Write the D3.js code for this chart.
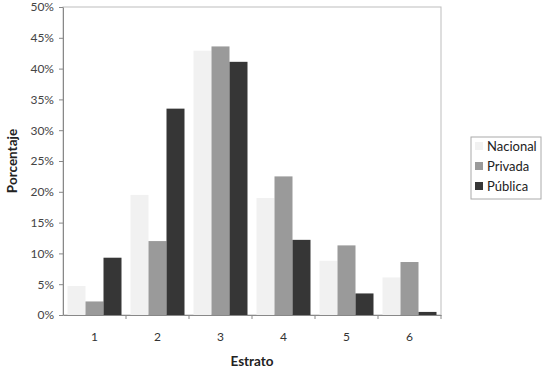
<!DOCTYPE html>
<html><head><meta charset="utf-8">
<script src="https://cdn.jsdelivr.net/npm/d3@7"></script>
<style>body{margin:0;background:#fff}svg{display:block;font-family:Lato,"Open Sans",sans-serif}</style>
</head><body><svg id="c" width="545" height="371"></svg>
<script>
const categories = ["1","2","3","4","5","6"];
const seriesNames = ["Nacional","Privada","Pública"];
const nacional = [4.7,19.5,42.9,19.0,8.8,6.1];
const privada = [2.2,12.0,43.6,22.5,11.3,8.6];
const publica = [9.3,33.5,41.1,12.2,3.5,0.5];
const yTicks = [0,5,10,15,20,25,30,35,40,45,50];
const colors = ["#f1f1f1","#9a9a9a","#363636"];
const seriesVals = [nacional, privada, publica];

const svg = d3.select("#c");
const L=63, R=441, T=7, B=315;
const x = d3.scaleBand().domain(categories).range([L,R]).paddingInner(0).paddingOuter(0);
const inner = d3.scaleBand().domain(seriesNames).range([0,x.bandwidth()]).paddingInner(0).paddingOuter(0.25);
const y = d3.scaleLinear().domain([0,50]).range([B,T]);

// plot border
svg.append("rect").attr("x",L).attr("y",T).attr("width",R-L).attr("height",B-T)
  .attr("fill","none").attr("stroke","#bdbdbd").attr("stroke-width",1);

// bars
seriesNames.forEach((s,si)=>{
  svg.append("g").selectAll("rect").data(categories).join("rect")
    .attr("x",c=>x(c)+inner(s))
    .attr("y",(c,i)=>y(seriesVals[si][i]))
    .attr("width",inner.bandwidth())
    .attr("height",(c,i)=>B-y(seriesVals[si][i]))
    .attr("fill",colors[si]);
});

// y axis
const ya = svg.append("g").attr("transform",`translate(${L},0)`)
  .call(d3.axisLeft(y).tickValues(yTicks).tickFormat(d=>d+"%").tickSize(4).tickSizeOuter(0));
ya.select(".domain").attr("stroke","#888");
ya.selectAll(".tick line").attr("stroke","#888");
ya.selectAll("text").attr("fill","#444").attr("font-size",12).attr("font-family","Lato,'Open Sans',sans-serif").attr("x",-9);

// x axis
const xa = svg.append("g").attr("transform",`translate(0,${B})`)
  .call(d3.axisBottom(x).tickSize(0).tickSizeOuter(0));
xa.select(".domain").attr("stroke","#888");
xa.selectAll("text").attr("fill","#333").attr("font-size",12).attr("font-family","Lato,'Open Sans',sans-serif").attr("dy","1.95em");
// boundary ticks
xa.selectAll(".btick").data(categories).join("line")
  .attr("x1",c=>x(c)+x.bandwidth()).attr("x2",c=>x(c)+x.bandwidth())
  .attr("y1",0).attr("y2",4).attr("stroke","#888");

// axis titles
svg.append("text").attr("x",252).attr("y",366).attr("text-anchor","middle")
  .attr("font-weight","bold").attr("font-size",13.5).attr("fill","#222").text("Estrato");
svg.append("text").attr("transform","translate(17,161) rotate(-90)").attr("text-anchor","middle")
  .attr("font-weight","bold").attr("font-size",13.5).attr("fill","#222").text("Porcentaje");

// legend
const lg = svg.append("g");
lg.append("rect").attr("x",471).attr("y",137).attr("width",70).attr("height",62)
  .attr("fill","#fff").attr("stroke","#aaa");
seriesNames.forEach((s,i)=>{
  lg.append("rect").attr("x",475).attr("y",142+i*20).attr("width",8).attr("height",8).attr("fill",colors[i]);
  lg.append("text").attr("x",487).attr("y",151+i*20).attr("font-size",13).attr("fill","#222").text(s);
});
</script></body></html>
